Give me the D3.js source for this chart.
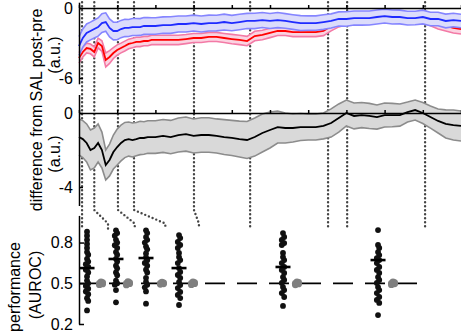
<!DOCTYPE html>
<html>
<head>
<meta charset="utf-8">
<script src="https://cdn.jsdelivr.net/npm/d3@7"></script>
<style>
  body { margin: 0; background: #fff; }
  svg { display: block; font-family: "Liberation Sans", Arial, sans-serif; }
</style>
</head>
<body>
<svg id="chart" width="461" height="335"></svg>
<script>
// time axis (a.u. of session time) shared by the two top panels
const times = [0, 0.5, 1, 1.5, 2, 2.5, 3, 3.5, 4, 4.5, 5, 5.5, 6, 6.5, 7, 7.5, 8, 8.5, 9, 9.5, 10,
  11, 12, 13, 14, 15, 16, 17, 18, 19, 20, 21, 22, 23, 24, 25, 26, 27, 28, 29, 30,
  31, 32, 33, 34, 35, 36, 37, 38, 39, 40, 41, 42, 43, 44, 45, 46, 47, 48, 49, 50]
const timeTicks = [0, 5, 10, 15, 20, 25, 30, 35, 40, 45, 50]

// panel 1: post-pre change, blue and red conditions (mean +- sem)
const blueMean = [-3.26, -2.57, -2.14, -1.97, -1.80, -1.63, -1.29, -1.20, -1.71, -1.97, -1.97,
  -1.80, -1.71, -1.71, -1.63, -1.63, -1.63, -1.54, -1.54, -1.54, -1.54,
  -1.46, -1.46, -1.37, -1.37, -1.29, -1.37, -1.29, -1.29, -1.20, -1.29,
  -1.20, -1.11, -1.11, -1.03, -1.11, -1.03, -1.11, -1.20, -1.29, -1.29,
  -1.29, -1.20, -1.11, -0.94, -0.94, -0.86, -0.86, -0.86, -0.77, -0.69,
  -0.77, -0.77, -0.86, -0.86, -0.77, -0.94, -0.94, -1.11, -1.03, -1.11]
const blueSem = [0.80, 0.78, 0.77, 0.76, 0.77, 0.78, 0.80, 0.79, 0.77, 0.76, 0.75,
  0.74, 0.74, 0.73, 0.73, 0.73, 0.72, 0.72, 0.72, 0.71, 0.71,
  0.70, 0.71, 0.69, 0.69, 0.68, 0.69, 0.68, 0.67, 0.68, 0.66,
  0.66, 0.65, 0.66, 0.64, 0.64, 0.65, 0.63, 0.63, 0.64, 0.62,
  0.62, 0.63, 0.61, 0.61, 0.62, 0.60, 0.61, 0.60, 0.60, 0.59,
  0.60, 0.59, 0.59, 0.58, 0.59, 0.58, 0.58, 0.59, 0.58, 0.58]
const redMean = [-4.28, -3.77, -3.43, -3.51, -3.77, -3.00, -3.26, -4.46, -4.20, -3.86, -3.60,
  -3.43, -3.26, -3.08, -3.00, -2.91, -2.91, -2.83, -2.83, -2.74, -2.74,
  -2.74, -2.74, -2.74, -2.66, -2.57, -2.57, -2.48, -2.48, -2.57, -2.66,
  -2.74, -2.83, -2.40, -2.31, -2.14, -1.97, -1.97, -2.06, -2.06, -2.06,
  -2.06, -1.97, -1.54, -1.20, -1.03, -0.94, -0.86, -0.77, -0.77, -0.69,
  -0.69, -0.77, -0.86, -0.86, -0.86, -1.11, -1.37, -1.54, -1.71, -1.80]
const redSem = [0.45, 0.43, 0.42, 0.42, 0.43, 0.42, 0.45, 0.60, 0.55, 0.47, 0.44,
  0.42, 0.42, 0.41, 0.41, 0.40, 0.40, 0.40, 0.40, 0.40, 0.40,
  0.40, 0.40, 0.40, 0.39, 0.39, 0.39, 0.39, 0.39, 0.39, 0.40,
  0.40, 0.40, 0.41, 0.41, 0.40, 0.39, 0.39, 0.39, 0.39, 0.39,
  0.39, 0.40, 0.42, 0.42, 0.41, 0.40, 0.40, 0.40, 0.40, 0.40,
  0.40, 0.40, 0.40, 0.40, 0.41, 0.42, 0.43, 0.43, 0.43, 0.43]

// panel 2: difference (mean +- sem)
const diffMean = [-1.30, -1.41, -1.62, -2.00, -1.89, -1.62, -2.00, -2.81, -2.54, -2.11, -1.84,
  -1.62, -1.46, -1.41, -1.46, -1.41, -1.35, -1.35, -1.30, -1.30, -1.30,
  -1.24, -1.30, -1.19, -1.14, -1.24, -1.19, -1.19, -1.24, -1.30, -1.35,
  -1.41, -1.46, -1.30, -1.08, -0.92, -0.76, -0.81, -0.81, -0.76, -0.76,
  -0.76, -0.70, -0.54, -0.27, 0.00, -0.16, -0.11, -0.16, -0.22, -0.11,
  -0.11, -0.11, 0.05, 0.16, 0.00, -0.22, -0.43, -0.59, -0.65, -0.70]
const diffSem = [0.97, 1.00, 1.03, 1.08, 1.08, 1.03, 0.97, 0.81, 0.86, 0.92, 0.97,
  0.97, 0.95, 0.92, 0.92, 0.90, 0.90, 0.88, 0.88, 0.88, 0.88,
  0.89, 0.90, 0.92, 0.92, 0.92, 0.93, 0.93, 0.92, 0.94, 0.95,
  0.97, 1.00, 1.03, 1.03, 0.97, 0.86, 0.81, 0.76, 0.73, 0.70,
  0.70, 0.70, 0.76, 0.76, 0.70, 0.70, 0.68, 0.68, 0.65, 0.65,
  0.63, 0.60, 0.54, 0.54, 0.57, 0.60, 0.65, 0.76, 0.81, 0.81]

// dotted markers: time in top panels -> landing spot above panel 3
const markTimes = [0.4, 2.0, 5.1, 7.2, 15.05, 22.4, 32.6, 35.1, 45.3]
const markTargets = [0.4, 3.8, 7.3, 11.3, 15.7, 22.4, 32.6, 35.1, 45.3]

// panel 3: decoding performance per window
const groupPos = [1.05, 4.84, 8.77, 13.09, 26.7, 39.14]
const shufflePos = [2.88, 6.41, 10.86, 14.92, 28.53, 41.1]
const groupMeans = [0.612, 0.679, 0.686, 0.612, 0.62, 0.671]
const groupScores = [
  [0.88, 0.85, 0.82, 0.79, 0.76, 0.73, 0.71, 0.68, 0.66, 0.64, 0.62, 0.6, 0.58, 0.55, 0.52, 0.5, 0.48, 0.46, 0.44, 0.42, 0.39, 0.37, 0.3],
  [0.89, 0.87, 0.85, 0.82, 0.8, 0.78, 0.76, 0.73, 0.71, 0.68, 0.66, 0.63, 0.61, 0.58, 0.56, 0.52, 0.5, 0.49, 0.45, 0.36],
  [0.89, 0.87, 0.84, 0.82, 0.8, 0.77, 0.75, 0.72, 0.69, 0.67, 0.65, 0.63, 0.6, 0.58, 0.54, 0.51, 0.49, 0.47, 0.44, 0.35],
  [0.855, 0.833, 0.804, 0.782, 0.76, 0.723, 0.693, 0.671, 0.649, 0.612, 0.583, 0.561, 0.539, 0.509, 0.487, 0.465, 0.436, 0.414, 0.391, 0.34],
  [0.87, 0.841, 0.819, 0.796, 0.782, 0.723, 0.693, 0.671, 0.649, 0.62, 0.598, 0.576, 0.546, 0.524, 0.502, 0.472, 0.45, 0.428, 0.399, 0.333],
  [0.892, 0.782, 0.76, 0.73, 0.708, 0.686, 0.671, 0.649, 0.62, 0.598, 0.576, 0.546, 0.524, 0.502, 0.472, 0.45, 0.428, 0.399, 0.377, 0.355, 0.266]
]
const shuffleScores = [
  [0.49, 0.495, 0.5, 0.505, 0.51],
  [0.488, 0.497, 0.5, 0.504, 0.512],
  [0.492, 0.496, 0.5, 0.503, 0.508],
  [0.49, 0.497, 0.5, 0.505, 0.51],
  [0.489, 0.495, 0.5, 0.506, 0.511],
  [0.49, 0.496, 0.5, 0.504, 0.51]
]
const chanceLevel = 0.5
const chanceEnd = 44.25

const svg = d3.select("#chart")

const x = d3.scaleLinear().domain([0, 50]).range([79, 461])
const y1 = d3.scaleLinear().domain([-6.5, 0.5]).range([83.8, 2.2])
const y2 = d3.scaleLinear().domain([-5, 1]).range([205.5, 94.5])
const y3 = d3.scaleLinear().domain([0.2, 1.0]).range([324, 215.4])

const rows = times.map((t, i) => ({
  t,
  blue: blueMean[i], blueSem: blueSem[i],
  red: redMean[i], redSem: redSem[i],
  diff: diffMean[i], diffSem: diffSem[i]
}))

// dotted connectors (drawn first so the bands sit over them)
const connector = d3.line()
svg.append("g")
  .selectAll("path")
  .data(markTimes.map((t, i) => [t, markTargets[i]]))
  .join("path")
  .attr("d", d => connector([
    [x(d[0]), y1(0.5)],
    [x(d[0]), y3(1.04)],
    [x(d[1]), y3(0.94)],
    [x(d[1]), y3(0.9)]
  ]))
  .attr("fill", "none")
  .attr("stroke", "#444")
  .attr("stroke-width", 2.4)
  .attr("stroke-linecap", "round")
  .attr("stroke-dasharray", "0,4")

function drawBand(g, yScale, key, semKey, fill, edge, lineColor, lineWidth) {
  const area = d3.area()
    .x(d => x(d.t))
    .y0(d => yScale(d[key] - d[semKey]))
    .y1(d => yScale(d[key] + d[semKey]))
  const line = (off) => d3.line()
    .x(d => x(d.t))
    .y(d => yScale(d[key] + off * d[semKey]))
  g.append("path").attr("d", area(rows)).attr("fill", fill)
  for (const off of [-1, 1]) {
    g.append("path").attr("d", line(off)(rows))
      .attr("fill", "none").attr("stroke", edge).attr("stroke-width", 1.6)
  }
  g.append("path").attr("d", line(0)(rows))
    .attr("fill", "none").attr("stroke", lineColor).attr("stroke-width", lineWidth)
}

const p1 = svg.append("g")
drawBand(p1, y1, "red", "redSem", "#fbd3e1", "#f37aa6", "#ff0000", 1.8)
drawBand(p1, y1, "blue", "blueSem", "#dcdcfb", "#8585ff", "#1f2bff", 1.8)

const p2 = svg.append("g")
drawBand(p2, y2, "diff", "diffSem", "#d9d9d9", "#8c8c8c", "#000", 1.8)

// axes
function styleAxis(g) {
  g.select(".domain").attr("stroke", "#000").attr("stroke-width", 1.5)
  g.selectAll(".tick line").attr("stroke", "#000").attr("stroke-width", 1.5)
  g.selectAll(".tick text").attr("font-size", 16).attr("fill", "#000")
    .attr("font-family", "'Liberation Sans', Arial, sans-serif")
  g.attr("font-size", null).attr("font-family", null)
}

for (const ys of [y1, y2]) {
  svg.append("g")
    .attr("transform", `translate(0,${ys(0)})`)
    .call(d3.axisTop(x).tickValues(timeTicks).tickSize(3).tickSizeOuter(0).tickFormat(""))
    .call(styleAxis)
}

svg.append("g")
  .attr("transform", `translate(${x(0)},0)`)
  .call(d3.axisLeft(y1).tickValues([0, -6]).tickSizeInner(-4).tickSizeOuter(0).tickPadding(6).tickFormat(d => String(d)))
  .call(styleAxis)

svg.append("g")
  .attr("transform", `translate(${x(0)},0)`)
  .call(d3.axisLeft(y2).tickValues([0, -4]).tickSizeInner(-4).tickSizeOuter(0).tickPadding(6).tickFormat(d => String(d)))
  .call(styleAxis)

svg.append("g")
  .attr("transform", `translate(${x(0)},0)`)
  .call(d3.axisLeft(y3).tickValues([0.2, 0.5, 0.8]).tickSizeInner(-5).tickSizeOuter(0).tickPadding(6).tickFormat(d3.format(".1f")))
  .call(styleAxis)

// panel 3 marks
svg.append("line")
  .attr("x1", x(0)).attr("x2", x(chanceEnd))
  .attr("y1", y3(chanceLevel)).attr("y2", y3(chanceLevel))
  .attr("stroke", "#000").attr("stroke-width", 1.8)
  .attr("stroke-dasharray", "20,12").attr("stroke-dashoffset", 2)

function dodge(values, step, gap) {
  const pts = values.map(v => ({ v, py: y3(v), dx: 0 })).sort((a, b) => a.py - b.py)
  pts.forEach((d, i) => {
    const prev = pts[i - 1]
    if (prev && d.py - prev.py < gap) d.dx = prev.dx > 0 ? -step : step
  })
  return pts
}

const p3 = svg.append("g")
shuffleScores.forEach((vals, gi) => {
  p3.append("g").selectAll("circle")
    .data(dodge(vals, 1.6, 6))
    .join("circle")
    .attr("cx", d => x(shufflePos[gi]) + d.dx)
    .attr("cy", d => d.py)
    .attr("r", 3.4)
    .attr("fill", "#7f7f7f")
})

groupScores.forEach((vals, gi) => {
  p3.append("g").selectAll("circle")
    .data(dodge(vals, 1.2, 4))
    .join("circle")
    .attr("cx", d => x(groupPos[gi]) + d.dx)
    .attr("cy", d => d.py)
    .attr("r", 2.9)
    .attr("fill", "#111")
})

p3.append("g").selectAll("line")
  .data(groupMeans.map((m, i) => ({ m, t: groupPos[i] })))
  .join("line")
  .attr("x1", d => x(d.t) - 7.5).attr("x2", d => x(d.t) + 7.5)
  .attr("y1", d => y3(d.m)).attr("y2", d => y3(d.m))
  .attr("stroke", "#000").attr("stroke-width", 2.6)

// axis titles
const titles = [
  { text: "SAL post-pre", x: 42, y: 55 },
  { text: "(a.u.)", x: 60, y: 55 },
  { text: "difference from", x: 42, y: 158 },
  { text: "(a.u.)", x: 60, y: 154 },
  { text: "performance", x: 20, y: 287 },
  { text: "(AUROC)", x: 41, y: 285 }
]
svg.append("g").selectAll("text")
  .data(titles)
  .join("text")
  .attr("transform", d => `translate(${d.x},${d.y}) rotate(-90)`)
  .attr("text-anchor", "middle")
  .attr("font-size", 16)
  .attr("fill", "#000")
  .text(d => d.text)
</script>
</body>
</html>
